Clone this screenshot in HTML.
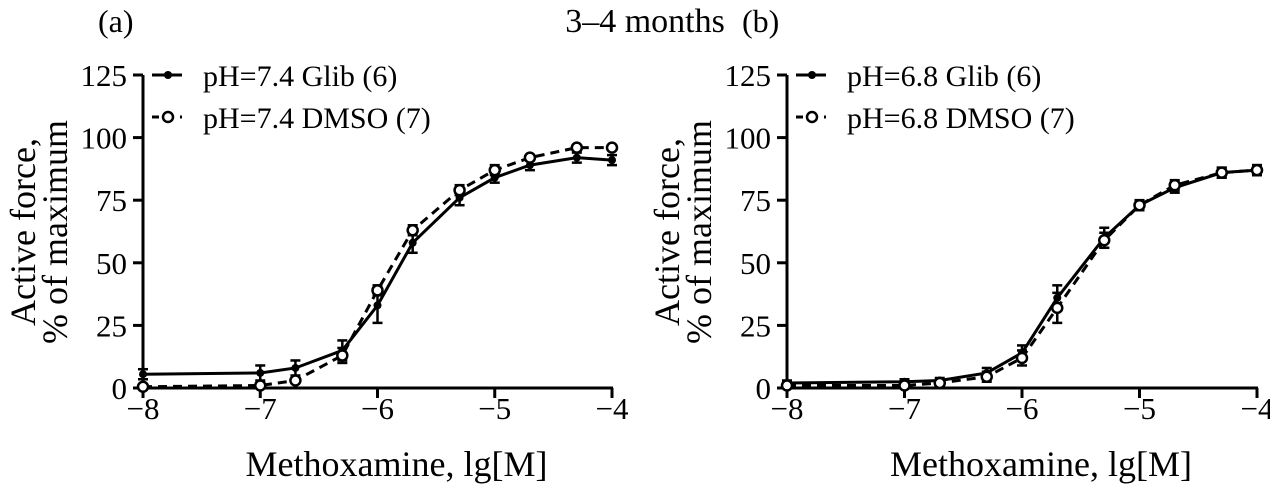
<!DOCTYPE html>
<html><head><meta charset="utf-8">
<style>
html,body{margin:0;padding:0;background:#fff;}
svg{display:block;font-family:"Liberation Serif",serif;}
</style></head>
<body>
<svg id="chart" width="1270" height="486" viewBox="0 0 1270 486" xmlns="http://www.w3.org/2000/svg">
<text x="645" y="32" font-size="34" text-anchor="middle">3–4 months</text>
</svg>
<script>
const xValues = [-8, -7, -6.7, -6.3, -6, -5.7, -5.3, -5, -4.7, -4.3, -4];
const aGlib = [5.5, 6, 8, 15, 33, 58, 76, 84, 89, 92, 91];
const aGlibErr = [2, 3, 3, 4, 7, 4, 3, 2, 2, 2, 2];
const aDmso = [0.5, 1, 3, 13, 39, 63, 79, 87, 92, 96, 96];
const aDmsoErr = [1, 1, 1, 3, 2, 2, 2, 2, 1, 1, 1];
const bGlib = [2, 2.5, 3, 6, 14, 36, 60, 73, 80, 86, 87];
const bGlibErr = [1, 1, 1, 2, 3, 5, 4, 2, 2, 2, 2];
const bDmso = [1, 1, 2, 4.5, 12, 32, 59, 73, 81, 86, 87];
const bDmsoErr = [1, 1, 1, 2, 3, 6, 3, 2, 2, 2, 2];
const yTicks = [0, 25, 50, 75, 100, 125];
const xTicks = [-8, -7, -6, -5, -4];
const legendA = ["pH=7.4 Glib (6)", "pH=7.4 DMSO (7)"];
const legendB = ["pH=6.8 Glib (6)", "pH=6.8 DMSO (7)"];

const NS = "http://www.w3.org/2000/svg";
const svg = document.getElementById('chart');
function mk(tag, attrs, parent){const e=document.createElementNS(NS,tag);for(const k in attrs)e.setAttribute(k,attrs[k]);(parent||svg).appendChild(e);return e;}

function panel(id, left, right, labelX, glib, glibErr, dmso, dmsoErr, legend){
  const top=75, bottom=388;
  const g = mk('g',{});
  
  
  const xs = v => left + (v+8)/4*(right-left);
  const ys = v => bottom - v/125*(bottom-top);
  const pl = mk('text',{x:labelX,y:32,'font-size':32},g); pl.textContent='('+id+')';
  
  
  const ya = mk('line',{x1:left,y1:top,x2:left,y2:bottom,stroke:'#000','stroke-width':3},g);
  
  
  const xa = mk('line',{x1:left-1,y1:bottom,x2:right+1,y2:bottom,stroke:'#000','stroke-width':3},g);
  
  
  yTicks.forEach(t=>{
    mk('line',{x1:left-10,y1:ys(t),x2:left,y2:ys(t),stroke:'#000','stroke-width':3},g);
    const tx=mk('text',{x:left-16,y:ys(t)+11,'font-size':31,'text-anchor':'end'},g); tx.textContent=t;
    
    
  });
  xTicks.forEach(t=>{
    mk('line',{x1:xs(t),y1:bottom,x2:xs(t),y2:bottom+10,stroke:'#000','stroke-width':3},g);
    const tx=mk('text',{x:xs(t),y:bottom+31,'font-size':31,'text-anchor':'middle'},g); tx.textContent='−'+Math.abs(t);
    
    
  });
  const xt=mk('text',{x:(left+right)/2+19,y:476,'font-size':36,'text-anchor':'middle'},g); xt.textContent='Methoxamine, lg[M]';
  
  
  const yt=mk('text',{transform:`translate(${left-102},232) rotate(-90)`,'font-size':36,'text-anchor':'middle'},g);
  
  
  const t1=mk('tspan',{x:0,y:-6},yt); t1.textContent='Active force,';
  const t2=mk('tspan',{x:0,y:26},yt); t2.textContent='% of maximum';
  function series(vals, errs, dashed, name){
    const sg=mk('g',{},g);
    
    
    const d=vals.map((v,i)=>(i?'L':'M')+xs(xValues[i])+','+ys(v)).join(' ');
    mk('path',{d:d,fill:'none',stroke:'#000','stroke-width':3,'stroke-dasharray':dashed?'9,6':'none'},sg);
    vals.forEach((v,i)=>{
      const x=xs(xValues[i]);
      const e=errs[i];
      mk('line',{x1:x,y1:ys(v+e),x2:x,y2:ys(v-e),stroke:'#000','stroke-width':2.5},sg);
      mk('line',{x1:x-5,y1:ys(v+e),x2:x+5,y2:ys(v+e),stroke:'#000','stroke-width':2.5},sg);
      mk('line',{x1:x-5,y1:ys(v-e),x2:x+5,y2:ys(v-e),stroke:'#000','stroke-width':2.5},sg);
      const c = dashed ? mk('circle',{cx:x,cy:ys(v),r:5,fill:'#fff',stroke:'#000','stroke-width':2.5},sg)
                       : mk('circle',{cx:x,cy:ys(v),r:4,fill:'#000'},sg);
      
      
    });
  }
  series(glib, glibErr, false, 'series-glib-'+id);
  series(dmso, dmsoErr, true, 'series-dmso-'+id);
  const lg=mk('g',{},g);
  
  
  const lx=left+9;
  mk('line',{x1:lx,y1:75,x2:lx+30,y2:75,stroke:'#000','stroke-width':3},lg);
  mk('circle',{cx:lx+16,cy:75,r:4,fill:'#000'},lg);
  const l1=mk('text',{x:lx+51,y:86,'font-size':30},lg); l1.textContent=legend[0];
  
  
  mk('line',{x1:lx,y1:117,x2:lx+30,y2:117,stroke:'#000','stroke-width':3,'stroke-dasharray':'7,7'},lg);
  mk('circle',{cx:lx+16,cy:117,r:5,fill:'#fff',stroke:'#000','stroke-width':2.5},lg);
  const l2=mk('text',{x:lx+51,y:128,'font-size':30},lg); l2.textContent=legend[1];
  
  
}
panel('a', 143, 612, 98, aGlib, aGlibErr, aDmso, aDmsoErr, legendA);
panel('b', 787, 1257, 742, bGlib, bGlibErr, bDmso, bDmsoErr, legendB);
</script>
</body></html>
